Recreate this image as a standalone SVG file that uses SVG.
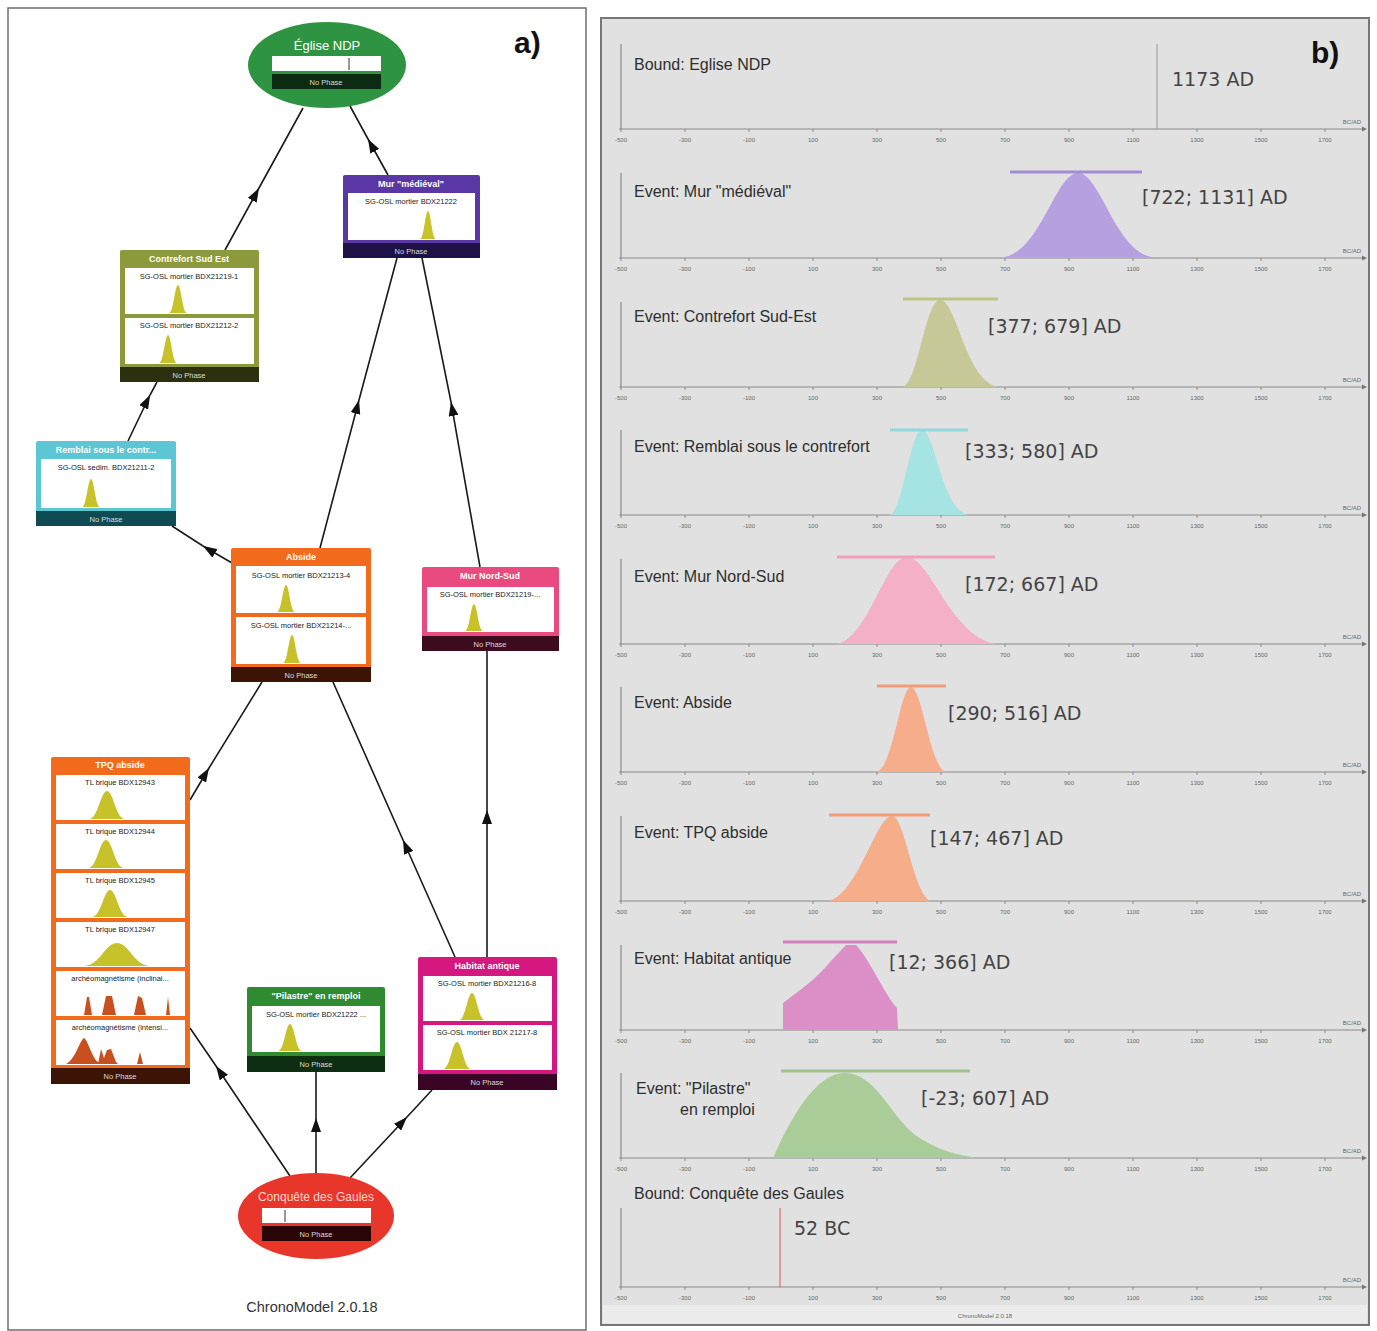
<svg xmlns="http://www.w3.org/2000/svg" xmlns:xlink="http://www.w3.org/1999/xlink" width="1377" height="1331" viewBox="0 0 1377 1331">
<style>
.hdr{font-family:"Liberation Sans",Arial,sans-serif;font-size:9px;font-weight:bold;fill:#fff;text-anchor:middle}
.lbl{font-family:"Liberation Sans",Arial,sans-serif;font-size:7.5px;fill:#222;text-anchor:middle}
.np{font-family:"Liberation Sans",Arial,sans-serif;font-size:7.5px;fill:#ddd;text-anchor:middle}
.in{fill:#fff}
.pk{fill:#c8c22a}
.am{fill:#c8501f}
.edge{fill:none;stroke:#1a1a1a;stroke-width:1.6;marker-mid:url(#arr)}
.ev{font-family:"Liberation Sans",Arial,sans-serif;font-size:16px;fill:#2e2e2e}
.val{font-family:"DejaVu Sans",sans-serif;font-size:19px;fill:#444}
.tk{font-family:"Liberation Sans",Arial,sans-serif;font-size:6px;fill:#666;text-anchor:middle}
.vax{stroke:#8a8a8a;stroke-width:1.2}
.big{font-family:"Liberation Sans",Arial,sans-serif;font-size:30px;font-weight:bold;fill:#111}
</style>
<defs>
<marker id="arr" viewBox="0 0 14 10" refX="14" refY="5" markerWidth="14" markerHeight="10" markerUnits="userSpaceOnUse" orient="auto">
<path d="M0,0 L14,5 L0,10 Z" fill="#111"/>
</marker>
<g id="axis">
<line x1="619" y1="0" x2="1363" y2="0" stroke="#8a8a8a" stroke-width="1.2"/>
<path d="M1362,-2.5 L1367,0 L1362,2.5 Z" fill="#777"/>
<g stroke="#8a8a8a" stroke-width="1">
<line x1="621" y1="0" x2="621" y2="3"/><line x1="685" y1="0" x2="685" y2="3"/><line x1="749" y1="0" x2="749" y2="3"/><line x1="813" y1="0" x2="813" y2="3"/><line x1="877" y1="0" x2="877" y2="3"/><line x1="941" y1="0" x2="941" y2="3"/><line x1="1005" y1="0" x2="1005" y2="3"/><line x1="1069" y1="0" x2="1069" y2="3"/><line x1="1133" y1="0" x2="1133" y2="3"/><line x1="1197" y1="0" x2="1197" y2="3"/><line x1="1261" y1="0" x2="1261" y2="3"/><line x1="1325" y1="0" x2="1325" y2="3"/>
</g>
<text class="tk" x="621" y="13">-500</text><text class="tk" x="685" y="13">-300</text><text class="tk" x="749" y="13">-100</text><text class="tk" x="813" y="13">100</text><text class="tk" x="877" y="13">300</text><text class="tk" x="941" y="13">500</text><text class="tk" x="1005" y="13">700</text><text class="tk" x="1069" y="13">900</text><text class="tk" x="1133" y="13">1100</text><text class="tk" x="1197" y="13">1300</text><text class="tk" x="1261" y="13">1500</text><text class="tk" x="1325" y="13">1700</text>
<text class="tk" x="1352" y="-5">BC/AD</text>
</g>
</defs>

<rect width="1377" height="1331" fill="#fff"/>

<!-- Panel a frame -->
<rect x="8" y="8" width="578" height="1322" fill="#fff" stroke="#6e6e6e" stroke-width="1.5"/>
<text class="big" x="514" y="53">a)</text>

<!-- connectors -->
<g id="connectors">
<path class="edge" d="M225,250 L259,188 L303,108"/>
<path class="edge" d="M388,175 L368,139 L350,106"/>
<path class="edge" d="M128,441 L150,395 L157,382"/>
<path class="edge" d="M232,563 L203,546 L172,526"/>
<path class="edge" d="M320,548 L359,400 L397,258"/>
<path class="edge" d="M480,567 L451,402 L422,258"/>
<path class="edge" d="M190,800 L209,768 L262,682"/>
<path class="edge" d="M455,957 L403,840 L333,682"/>
<path class="edge" d="M487,957 L487,810 L487,651"/>
<path class="edge" d="M290,1176 L216,1066 L190,1028"/>
<path class="edge" d="M316,1173 L316,1118 L316,1072"/>
<path class="edge" d="M350,1178 L407,1117 L432,1090"/>
</g>

<!-- Eglise NDP -->
<g id="eglise">
<ellipse cx="327" cy="65" rx="79" ry="43" fill="#2f9441"/>
<text x="327" y="50" font-family="Liberation Sans,Arial,sans-serif" font-size="13" fill="#fff" text-anchor="middle">Église NDP</text>
<rect x="272" y="56" width="109" height="15" fill="#fff"/>
<line x1="349" y1="58" x2="349" y2="70" stroke="#333" stroke-width="1"/>
<rect x="272" y="74" width="109" height="15" fill="#0b2b12"/>
<text class="np" x="326" y="85">No Phase</text>
</g>

<!-- Mur medieval -->
<g id="mur-medieval">
<rect x="343" y="175" width="137" height="83" rx="2" fill="#5a37a5"/>
<text class="hdr" x="411" y="187">Mur "médiéval"</text>
<rect class="in" x="348" y="193" width="127" height="47"/>
<text class="lbl" x="411" y="204">SG-OSL mortier BDX21222</text>
<path class="pk" d="M420,239 C424,239 425.2,211 428,211 C430.8,211 432,239 436,239 Z"/>
<rect x="343" y="243" width="137" height="15" fill="#1e1145"/>
<text class="np" x="411" y="254">No Phase</text>
</g>

<!-- Contrefort Sud Est -->
<g id="contrefort">
<rect x="120" y="250" width="139" height="132" rx="2" fill="#8c9a3c"/>
<text class="hdr" x="189" y="262">Contrefort Sud Est</text>
<rect class="in" x="125" y="268" width="129" height="46"/>
<text class="lbl" x="189" y="279">SG-OSL mortier BDX21219-1</text>
<path class="pk" d="M169,313 C173.5,313 174.9,285 178,285 C181.1,285 182.5,313 187,313 Z"/>
<rect class="in" x="125" y="318" width="129" height="46"/>
<text class="lbl" x="189" y="328">SG-OSL mortier BDX21212-2</text>
<path class="pk" d="M159,363 C163.5,363 164.9,335 168,335 C171.1,335 172.5,363 177,363 Z"/>
<rect x="120" y="367" width="139" height="15" fill="#2c300f"/>
<text class="np" x="189" y="378">No Phase</text>
</g>

<!-- Remblai -->
<g id="remblai">
<rect x="36" y="441" width="140" height="85" rx="2" fill="#5cc7d2"/>
<text class="hdr" x="106" y="453">Remblai sous le contr...</text>
<rect class="in" x="41" y="459" width="130" height="49"/>
<text class="lbl" x="106" y="470">SG-OSL sedim. BDX21211-2</text>
<path class="pk" d="M82,507 C86.5,507 87.9,479 91,479 C94.1,479 95.5,507 100,507 Z"/>
<rect x="36" y="511" width="140" height="15" fill="#0f4b52"/>
<text class="np" x="106" y="522">No Phase</text>
</g>

<!-- Abside -->
<g id="abside">
<rect x="231" y="548" width="140" height="134" rx="2" fill="#f26b1d"/>
<text class="hdr" x="301" y="560">Abside</text>
<rect class="in" x="236" y="566" width="130" height="47"/>
<text class="lbl" x="301" y="578">SG-OSL mortier BDX21213-4</text>
<path class="pk" d="M277,612 C281.5,612 282.9,585 286,585 C289.1,585 290.5,612 295,612 Z"/>
<rect class="in" x="236" y="617" width="130" height="47"/>
<text class="lbl" x="301" y="628">SG-OSL mortier BDX21214-...</text>
<path class="pk" d="M283,663 C287.5,663 288.9,635 292,635 C295.1,635 296.5,663 301,663 Z"/>
<rect x="231" y="667" width="140" height="15" fill="#3b1406"/>
<text class="np" x="301" y="678">No Phase</text>
</g>

<!-- Mur Nord-Sud -->
<g id="mur-nord-sud">
<rect x="422" y="567" width="137" height="84" rx="2" fill="#e94b80"/>
<text class="hdr" x="490" y="579">Mur Nord-Sud</text>
<rect class="in" x="427" y="587" width="127" height="45"/>
<text class="lbl" x="490" y="597">SG-OSL mortier BDX21219-...</text>
<path class="pk" d="M465,631 C469.5,631 470.9,604 474,604 C477.1,604 478.5,631 483,631 Z"/>
<rect x="422" y="636" width="137" height="15" fill="#3d0b1e"/>
<text class="np" x="490" y="647">No Phase</text>
</g>

<!-- TPQ abside -->
<g id="tpq-abside">
<rect x="51" y="757" width="139" height="327" rx="2" fill="#f26b1d"/>
<text class="hdr" x="120" y="768">TPQ abside</text>
<rect class="in" x="56" y="775" width="129" height="45"/>
<text class="lbl" x="120" y="785">TL brique BDX12943</text>
<path class="pk" d="M89,819 C98,819 100.7,791 107,791 C113.3,791 116,819 125,819 Z"/>
<rect class="in" x="56" y="824" width="129" height="45"/>
<text class="lbl" x="120" y="834">TL brique BDX12944</text>
<path class="pk" d="M88,868 C97,868 99.7,840 106,840 C112.3,840 115,868 124,868 Z"/>
<rect class="in" x="56" y="873" width="129" height="45"/>
<text class="lbl" x="120" y="883">TL brique BDX12945</text>
<path class="pk" d="M92,917 C101,917 103.7,890 110,890 C116.3,890 119,917 128,917 Z"/>
<rect class="in" x="56" y="922" width="129" height="45"/>
<text class="lbl" x="120" y="932">TL brique BDX12947</text>
<path class="pk" d="M83,966 C100,966 105,943 117,943 C129,943 134,966 151,966 Z"/>
<rect class="in" x="56" y="971" width="129" height="45"/>
<text class="lbl" x="120" y="981">archéomagnétisme (inclinai...</text>
<path class="am" d="M84,1015 L87,997 L89,997 L92,1015 Z M102,1015 L106,996 L112,996 L116,1015 Z M134,1015 L138,996 L142,998 L146,1015 Z M166,1015 L168,997 L170,1015 Z"/>
<rect class="in" x="56" y="1020" width="129" height="45"/>
<text class="lbl" x="120" y="1030">archéomagnétisme (intensi...</text>
<path class="am" d="M66,1064 C75,1060 80,1040 84,1038 C88,1040 92,1058 98,1062 L100,1064 Z M98,1064 L101,1049 L104,1058 L107,1050 L111,1049 L116,1062 L118,1064 Z M137,1064 L140,1052 L143,1064 Z"/>
<rect x="51" y="1068" width="139" height="16" fill="#3b1406"/>
<text class="np" x="120" y="1079">No Phase</text>
</g>

<!-- Pilastre -->
<g id="pilastre">
<rect x="247" y="987" width="138" height="85" rx="2" fill="#2f8a30"/>
<text class="hdr" x="316" y="999">"Pilastre" en remploi</text>
<rect class="in" x="252" y="1006" width="128" height="46"/>
<text class="lbl" x="316" y="1017">SG-OSL mortier BDX21222 ...</text>
<path class="pk" d="M278,1051 C284,1051 285.8,1024 290,1024 C294.2,1024 296,1051 302,1051 Z"/>
<rect x="247" y="1056" width="138" height="16" fill="#0d2e10"/>
<text class="np" x="316" y="1067">No Phase</text>
</g>

<!-- Habitat antique -->
<g id="habitat">
<rect x="418" y="957" width="139" height="133" rx="2" fill="#d5187f"/>
<text class="hdr" x="487" y="969">Habitat antique</text>
<rect class="in" x="423" y="976" width="129" height="45"/>
<text class="lbl" x="487" y="986">SG-OSL mortier BDX21216-8</text>
<path class="pk" d="M459,1020 C465.5,1020 467.5,993 472,993 C476.5,993 478.5,1020 485,1020 Z"/>
<rect class="in" x="423" y="1025" width="129" height="45"/>
<text class="lbl" x="487" y="1035">SG-OSL mortier BDX 21217-8</text>
<path class="pk" d="M443,1069 C450,1069 452,1042 457,1042 C462,1042 464,1069 471,1069 Z"/>
<rect x="418" y="1074" width="139" height="16" fill="#3a0524"/>
<text class="np" x="487" y="1085">No Phase</text>
</g>

<!-- Conquete des Gaules -->
<g id="conquete">
<ellipse cx="316" cy="1216" rx="78" ry="43" fill="#e8362b"/>
<text x="316" y="1201" font-family="Liberation Sans,Arial,sans-serif" font-size="12" fill="#fbd6d0" text-anchor="middle">Conquête des Gaules</text>
<rect x="262" y="1208" width="109" height="15" fill="#fff"/>
<line x1="285" y1="1210" x2="285" y2="1222" stroke="#333" stroke-width="1"/>
<rect x="262" y="1226" width="109" height="15" fill="#2a0505"/>
<text class="np" x="316" y="1237">No Phase</text>
</g>

<text x="312" y="1312" font-family="Liberation Sans,Arial,sans-serif" font-size="14.5" fill="#333" text-anchor="middle">ChronoModel 2.0.18</text>

<!-- Panel b -->
<g id="panel-b">
<rect x="601" y="18" width="768" height="1307" fill="#e1e1e1" stroke="#777" stroke-width="2"/>
<rect x="603" y="1305" width="764" height="18" fill="#ececec"/>
<text class="tk" x="985" y="1318">ChronoModel 2.0.18</text>
<text class="big" x="1311" y="63">b)</text>

<use href="#axis" xlink:href="#axis" y="129"/>
<use href="#axis" xlink:href="#axis" y="258"/>
<use href="#axis" xlink:href="#axis" y="387"/>
<use href="#axis" xlink:href="#axis" y="515"/>
<use href="#axis" xlink:href="#axis" y="644"/>
<use href="#axis" xlink:href="#axis" y="772"/>
<use href="#axis" xlink:href="#axis" y="901"/>
<use href="#axis" xlink:href="#axis" y="1030"/>
<use href="#axis" xlink:href="#axis" y="1158"/>
<use href="#axis" xlink:href="#axis" y="1287"/>

<line class="vax" x1="621" y1="44" x2="621" y2="129"/>
<line class="vax" x1="621" y1="173" x2="621" y2="258"/>
<line class="vax" x1="621" y1="302" x2="621" y2="387"/>
<line class="vax" x1="621" y1="430" x2="621" y2="515"/>
<line class="vax" x1="621" y1="559" x2="621" y2="644"/>
<line class="vax" x1="621" y1="687" x2="621" y2="772"/>
<line class="vax" x1="621" y1="816" x2="621" y2="901"/>
<line class="vax" x1="621" y1="945" x2="621" y2="1030"/>
<line class="vax" x1="621" y1="1073" x2="621" y2="1158"/>
<line class="vax" x1="621" y1="1208" x2="621" y2="1287"/>

<!-- row 1 -->
<text class="ev" x="634" y="70">Bound: Eglise NDP</text>
<line x1="1157" y1="44" x2="1157" y2="129" stroke="#999" stroke-width="1"/>
<text class="val" x="1172" y="86">1173 AD</text>

<!-- row 2 -->
<text class="ev" x="634" y="197">Event: Mur "médiéval"</text>
<path d="M1000,257.5 C1040,256 1055,173 1078,173 C1101,173 1116,256 1156,257.5 Z" fill="#b7a0e0"/>
<line x1="1010" y1="172" x2="1142" y2="172" stroke="#a48bd6" stroke-width="3"/>
<text class="val" x="1142" y="204">[722; 1131] AD</text>

<!-- row 3 -->
<text class="ev" x="634" y="322">Event: Contrefort Sud-Est</text>
<path d="M902,387 C918,386 925,300 940,300 C957,300 965,380 998,387 Z" fill="#c6c897"/>
<line x1="903" y1="299" x2="998" y2="299" stroke="#c0c483" stroke-width="3"/>
<text class="val" x="988" y="333">[377; 679] AD</text>

<!-- row 4 -->
<text class="ev" x="634" y="452">Event: Remblai sous le contrefort</text>
<path d="M889,515 C903,514 910,430 922,430 C935,430 942,510 968,515 Z" fill="#a6e3e3"/>
<line x1="890" y1="430" x2="968" y2="430" stroke="#8fd9dc" stroke-width="3"/>
<text class="val" x="965" y="458">[333; 580] AD</text>

<!-- row 5 -->
<text class="ev" x="634" y="582">Event: Mur Nord-Sud</text>
<path d="M836,644 C868,640 885,557 907,557 C930,557 950,635 995,644 Z" fill="#f3b0c6"/>
<line x1="837" y1="557" x2="995" y2="557" stroke="#f0a0bb" stroke-width="3"/>
<text class="val" x="965" y="591">[172; 667] AD</text>

<!-- row 6 -->
<text class="ev" x="634" y="708">Event: Abside</text>
<path d="M876,772 C893,770 900,687 911,687 C922,687 930,768 946,772 Z" fill="#f6ad8c"/>
<line x1="877" y1="686" x2="946" y2="686" stroke="#f39a78" stroke-width="3"/>
<text class="val" x="948" y="720">[290; 516] AD</text>

<!-- row 7 -->
<text class="ev" x="634" y="838">Event: TPQ abside</text>
<path d="M828,901 C858,895 876,816 892,816 C905,816 912,890 930,901 Z" fill="#f5ad8a"/>
<line x1="829" y1="815" x2="930" y2="815" stroke="#f39a78" stroke-width="3"/>
<text class="val" x="930" y="845">[147; 467] AD</text>

<!-- row 8 -->
<text class="ev" x="634" y="964">Event: Habitat antique</text>
<path d="M783,1030 L783,1003 C800,990 815,980 830,962 L846,945 L856,945 C870,960 885,995 897,1008 L898,1030 Z" fill="#dc8ec6"/>
<line x1="783" y1="942" x2="897" y2="942" stroke="#d77fbd" stroke-width="3"/>
<text class="val" x="889" y="969">[12; 366] AD</text>

<!-- row 9 -->
<text class="ev" x="636" y="1094">Event: "Pilastre"</text>
<text class="ev" x="680" y="1115">en remploi</text>
<path d="M773,1158 C790,1120 815,1073 845,1073 C875,1073 890,1115 915,1135 C940,1152 960,1155 977,1158 Z" fill="#a9cc98"/>
<line x1="781" y1="1071" x2="970" y2="1071" stroke="#9ac48a" stroke-width="3"/>
<text class="val" x="921" y="1105">[-23; 607] AD</text>

<!-- row 10 -->
<text class="ev" x="634" y="1199">Bound: Conquête des Gaules</text>
<line x1="780" y1="1208" x2="780" y2="1287" stroke="#e05050" stroke-width="1"/>
<text class="val" x="794" y="1235">52 BC</text>
</g>
</svg>
